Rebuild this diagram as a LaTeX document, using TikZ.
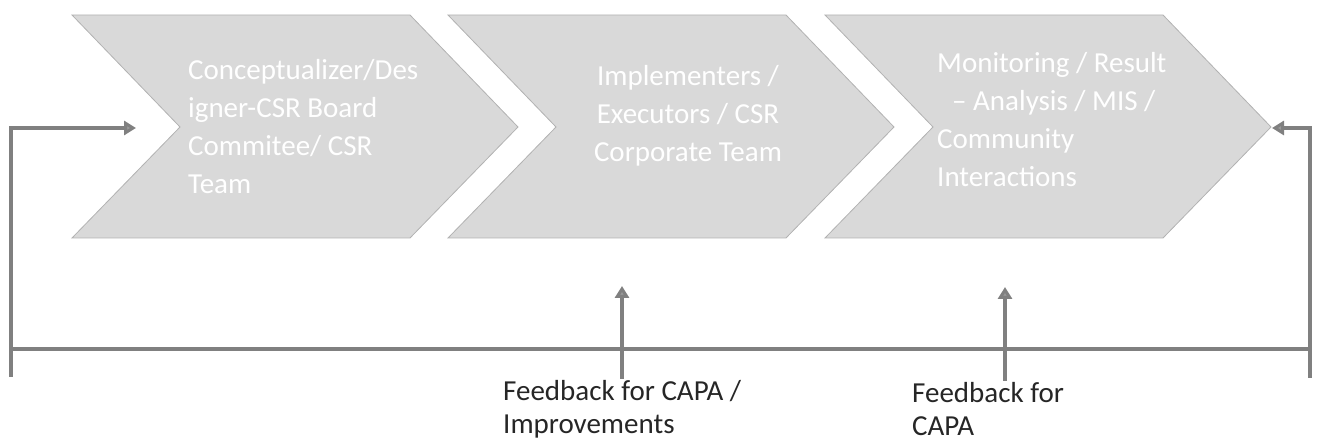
\documentclass[tikz,border=0pt]{standalone}
\usepackage{fontspec}
\setmainfont{Carlito}
\usetikzlibrary{arrows.meta}
\tikzset{
  chev/.style={fill=black!15, draw=black!30, line width=0.8pt},
  chevtext/.style={text=white, font=\fontsize{29}{38}\selectfont, inner sep=0pt},
  conn/.style={draw=black!50, line width=4pt},
  arr/.style={conn, -{Triangle[length=12pt,width=14pt,fill=black!40]}},
  fbtext/.style={font=\fontsize{29}{33}\selectfont, align=left, anchor=north west, inner sep=0pt, text=black!85}
}
\begin{document}
\begin{tikzpicture}[x=1pt,y=-1pt]
\useasboundingbox (0,0) rectangle (1320,443);
% chevrons
\foreach \xo in {72,448,825}{
  \path[chev] (\xo,15) -- (\xo+338,15) -- (\xo+446,127) -- (\xo+338,238) -- (\xo,238) -- (\xo+108,127) -- cycle;
}
\node[chevtext, align=left, anchor=north west] (t1) at (188,59) {Conceptualizer/Des\\igner-CSR Board\\Commitee/ CSR\\Team};
\node[chevtext, align=center, anchor=north] (t2) at (688,65) {Implementers /\\Executors / CSR\\Corporate Team};
\node[chevtext, align=left, anchor=north west] (t3) at (937,52) {Monitoring / Result\\\hspace*{15pt}– Analysis / MIS /\\Community\\Interactions};
% connector coordinates
\coordinate (lb) at (11,377);
\coordinate (lt) at (11,128);
\coordinate (c1in) at (136,128);
\coordinate (rb) at (1310,378);
\coordinate (rt) at (1310,128);
\coordinate (c3out) at (1272,128);
\coordinate (hl) at (11,349);
\coordinate (hr) at (1310,349);
\coordinate (f1b) at (622,379);
\coordinate (f1t) at (622,286);
\coordinate (f2b) at (1005,381);
\coordinate (f2t) at (1005,287);
\draw[arr] (lb) -- (lt) -- (c1in);
\draw[arr] (rb) -- (rt) -- (c3out);
\draw[conn] (hl) -- (hr);
\draw[arr] (f1b) -- (f1t);
\draw[arr] (f2b) -- (f2t);
% labels
\node[fbtext] (fb1) at (503,380) {Feedback for CAPA /\\Improvements};
\node[fbtext] (fb2) at (912,382) {Feedback for\\CAPA};
\end{tikzpicture}
\end{document}
